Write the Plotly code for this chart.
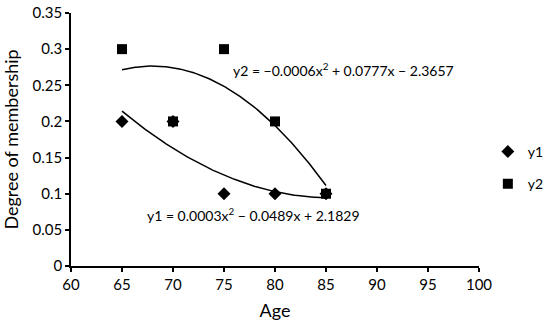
import numpy as np
import plotly.graph_objects as go

ages = [65, 70, 75, 80, 85]
y1 = [0.2, 0.2, 0.1, 0.1, 0.1]
y2 = [0.3, 0.2, 0.3, 0.2, 0.1]
x_ticks = [60, 65, 70, 75, 80, 85, 90, 95, 100]
y_ticks = [0, 0.05, 0.1, 0.15, 0.2, 0.25, 0.3, 0.35]
eq1 = "y1 = 0.0003x<sup>2</sup> \u2212 0.0489x + 2.1829"
eq2 = "y2 = \u22120.0006x<sup>2</sup> + 0.0777x \u2212 2.3657"

FONT = "Lato"
xs = np.linspace(min(ages), max(ages), 200)
c1 = np.polyfit(ages, y1, 2)
c2 = np.polyfit(ages, y2, 2)

fig = go.Figure()
fig.add_trace(go.Scatter(x=xs, y=np.polyval(c1, xs), mode="lines",
                         line=dict(color="black", width=1.5), showlegend=False, hoverinfo="skip"))
fig.add_trace(go.Scatter(x=xs, y=np.polyval(c2, xs), mode="lines",
                         line=dict(color="black", width=1.5), showlegend=False, hoverinfo="skip"))
fig.add_trace(go.Scatter(x=ages, y=y1, mode="markers", name="y1", legendgroup="a",
                         marker=dict(symbol="diamond", size=10, color="black")))
fig.add_trace(go.Scatter(x=ages, y=y2, mode="markers", name="y2", legendgroup="b",
                         marker=dict(symbol="square", size=10, color="black")))

fig.add_annotation(x=86.7, y=0.2725, xref="x", yref="y", text=eq2, showarrow=False,
                   font=dict(family=FONT, size=14, color="black"))
fig.add_annotation(x=77.9, y=0.0706, xref="x", yref="y", text=eq1, showarrow=False,
                   font=dict(family=FONT, size=14, color="black"))

fig.update_layout(
    width=550, height=326,
    margin=dict(l=71, r=71, t=13, b=60, autoexpand=False),
    paper_bgcolor="white", plot_bgcolor="white",
    font=dict(family=FONT, size=15, color="black"),
    legend=dict(xref="container", yref="container", x=0.887, y=0.485,
                xanchor="left", yanchor="middle",
                font=dict(family=FONT, size=14), tracegroupgap=11, itemwidth=30),
)
fig.update_xaxes(range=[60, 100], tickvals=x_ticks, showgrid=False, zeroline=False,
                 showline=True, linecolor="black", linewidth=1.5, automargin=False,
                 ticks="outside", ticklen=4, tickcolor="black", tickwidth=1.5,
                 title=dict(text="Age", standoff=13))
fig.update_yaxes(range=[0, 0.35], tickvals=y_ticks,
                 ticktext=[str(v) for v in y_ticks], showgrid=False, zeroline=False,
                 showline=True, linecolor="black", linewidth=1.5, automargin=False,
                 ticks="outside", ticklen=4, tickcolor="black", tickwidth=1.5,
                 ticklabeloverflow="allow",
                 title=dict(text="Degree of membership", standoff=14))

fig.write_html("out.html", config={"displayModeBar": False},
               post_script="document.body.style.margin='0';")
